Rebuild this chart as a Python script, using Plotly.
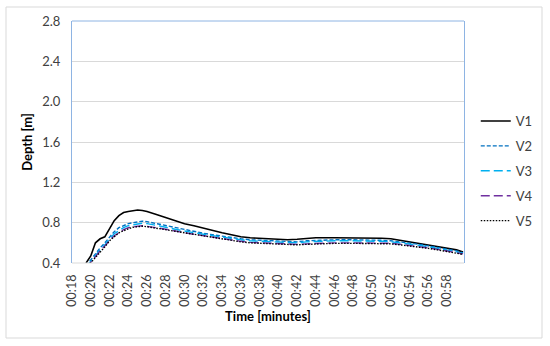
import plotly.graph_objects as go

# time in minutes
t = [19.5, 20, 20.5, 21, 21.5, 22, 22.5, 23, 23.5, 24, 24.5, 25, 25.5, 26,
     27, 28, 29, 30, 31, 32, 33, 34, 35, 36, 37, 38, 39, 40, 41, 42, 43, 44,
     46, 48, 50,
     51, 52, 53, 54, 55, 56, 57, 58, 59,
     59.7]

V1 = [0.40, 0.47, 0.60, 0.64, 0.66, 0.74, 0.82, 0.87, 0.90, 0.91, 0.915, 0.925, 0.92, 0.91,
      0.88, 0.85, 0.82, 0.79, 0.77, 0.745, 0.72, 0.70, 0.68, 0.66, 0.65, 0.645, 0.645, 0.64, 0.63, 0.635, 0.645, 0.65,
      0.65, 0.65, 0.65,
      0.645, 0.64, 0.625, 0.61, 0.595, 0.58, 0.565, 0.55, 0.53,
      0.51]
V2 = [0.37, 0.43, 0.50, 0.55, 0.60, 0.66, 0.71, 0.75, 0.77, 0.79, 0.80, 0.81, 0.815, 0.81,
      0.79, 0.77, 0.75, 0.73, 0.71, 0.695, 0.68, 0.665, 0.65, 0.64, 0.63, 0.625, 0.62, 0.615, 0.61, 0.61, 0.62, 0.625,
      0.63, 0.63, 0.63,
      0.625, 0.62, 0.61, 0.60, 0.585, 0.57, 0.555, 0.54, 0.52,
      0.50]
V3 = [0.36, 0.42, 0.48, 0.53, 0.58, 0.64, 0.69, 0.72, 0.75, 0.77, 0.78, 0.79, 0.795, 0.79,
      0.775, 0.755, 0.735, 0.715, 0.70, 0.685, 0.67, 0.655, 0.64, 0.63, 0.62, 0.615, 0.61, 0.605, 0.60, 0.60, 0.61, 0.615,
      0.62, 0.62, 0.62,
      0.615, 0.61, 0.60, 0.59, 0.575, 0.56, 0.545, 0.53, 0.51,
      0.495]
V4 = [0.35, 0.41, 0.47, 0.52, 0.57, 0.62, 0.67, 0.70, 0.73, 0.75, 0.76, 0.765, 0.77, 0.765,
      0.75, 0.735, 0.715, 0.70, 0.685, 0.67, 0.655, 0.64, 0.625, 0.615, 0.605, 0.60, 0.595, 0.59, 0.585, 0.585, 0.59, 0.595,
      0.60, 0.60, 0.60,
      0.60, 0.595, 0.585, 0.575, 0.56, 0.55, 0.535, 0.52, 0.505,
      0.49]
V5 = [0.35, 0.40, 0.46, 0.51, 0.56, 0.62, 0.66, 0.70, 0.72, 0.74, 0.755, 0.76, 0.765, 0.76,
      0.745, 0.73, 0.71, 0.695, 0.68, 0.665, 0.65, 0.635, 0.62, 0.61, 0.60, 0.595, 0.59, 0.585, 0.58, 0.58, 0.585, 0.59,
      0.595, 0.595, 0.595,
      0.595, 0.59, 0.58, 0.57, 0.555, 0.545, 0.53, 0.515, 0.50,
      0.485]

x_tick_vals = list(range(18, 60, 2))
x_tick_text = ["00:%02d" % m for m in x_tick_vals]
y_tick_vals = [0.4, 0.8, 1.2, 1.6, 2.0, 2.4, 2.8]
y_tick_text = ["0.4", "0.8", "1.2", "1.6", "2.0", "2.4", "2.8"]

series = [
    ("V1", V1, "#000000", "solid", 1.6),
    ("V2", V2, "#0070C0", "4px,2px", 1.4),
    ("V3", V3, "#00B0F0", "9px,4px", 1.4),
    ("V4", V4, "#7030A0", "9px,4px", 1.4),
    ("V5", V5, "#000000", "1.5px,1.5px", 1.4),
]

fig = go.Figure()
for name, vals, col, dash, w in series:
    fig.add_trace(go.Scatter(x=t, y=vals, mode="lines", name=name, legendgroup=name,
                             line=dict(color=col, dash=dash, width=w)))

font_family = "Lato, 'Open Sans', sans-serif"
blue = "#8EB4E3"

fig.update_layout(
    width=550, height=346,
    margin=dict(l=72, r=86, t=21, b=83, autoexpand=False),
    paper_bgcolor="white", plot_bgcolor="white",
    font=dict(family=font_family, size=13, color="#404040"),
    showlegend=True,
    legend=dict(x=1.03, y=0.38, xanchor="left", yanchor="middle",
                traceorder="grouped", tracegroupgap=5,
                font=dict(size=13, color="#404040"), itemwidth=30,
                bgcolor="rgba(0,0,0,0)"),
    xaxis=dict(range=[18, 59.8], tickmode="array", tickvals=x_tick_vals, ticktext=x_tick_text,
               tickangle=-90, showgrid=False, zeroline=False, showline=False, automargin=False,
               ticks="", ticklen=0, tickfont=dict(size=12.5), ticklabelstandoff=8,
               title=dict(text="<b>Time [minutes]</b>", font=dict(size=13, color="#000000"), standoff=6)),
    yaxis=dict(range=[0.4, 2.8], tickmode="array", tickvals=y_tick_vals, ticktext=y_tick_text,
               showgrid=True, gridcolor="#D9D9D9", gridwidth=1, zeroline=False, automargin=False,
               showline=True, linecolor=blue, linewidth=1, mirror=True, ticks="",
               tickfont=dict(size=13), ticklabelstandoff=8,
               title=dict(text="<b>Depth [m]</b>", font=dict(size=13, color="#000000"), standoff=6)),
    shapes=[
        dict(type="line", xref="paper", yref="paper", x0=0, x1=1, y0=1, y1=1,
             line=dict(color=blue, width=1)),
        dict(type="line", xref="paper", yref="paper", x0=0, x1=1, y0=0, y1=0,
             line=dict(color="#D9D9D9", width=1)),
        dict(type="rect", xref="paper", yref="paper",
             x0=(6 - 72) / 392, x1=(542 - 72) / 392,
             y0=(263 - 338) / 242, y1=(263 - 7) / 242,
             line=dict(color="#D9D9D9", width=1), fillcolor="rgba(0,0,0,0)", layer="below"),
    ],
)

fig.write_html("out.html", config={"displayModeBar": False},
               post_script="document.body.style.margin='0';document.body.style.padding='0';")
